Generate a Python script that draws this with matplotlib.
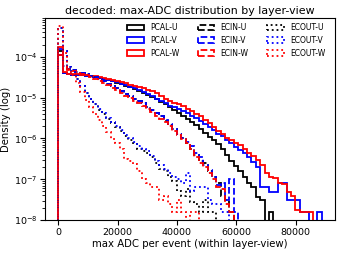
import numpy as np
import matplotlib
matplotlib.use("Agg")
import matplotlib.pyplot as plt

# shared bin edges (ADC)
adc_max = 88800
nbins = 60

# log10(density) per bin, None = empty bin
pcal_u = [-3.85, -4.40, -4.43, -4.44, -4.44, -4.45, -4.46, -4.47, -4.49, -4.51,
          -4.54, -4.57, -4.60, -4.63, -4.67, -4.71, -4.75, -4.79, -4.84, -4.88,
          -4.93, -4.98, -5.04, -5.10, -5.16, -5.23, -5.30, -5.37, -5.44, -5.52,
          -5.60, -5.68, -5.77, -5.87, -5.96, -6.05, -6.14, -6.25, -6.40, -6.55,
          -6.68, -6.80, -6.95, -7.09, -7.20, -7.44, -7.51, None, -7.80, None,
          None, None, None, None, None, None, None, None, None, None]
pcal_v = [-3.80, -4.40, -4.43, -4.44, -4.45, -4.45, -4.46, -4.47, -4.49, -4.51,
          -4.53, -4.56, -4.59, -4.62, -4.66, -4.69, -4.73, -4.76, -4.80, -4.85,
          -4.90, -4.96, -5.02, -5.08, -5.14, -5.20, -5.24, -5.27, -5.33, -5.38,
          -5.44, -5.50, -5.56, -5.64, -5.72, -5.80, -5.88, -5.95, -6.04, -6.12,
          -6.20, -6.28, -6.36, -6.45, -6.58, -6.70, -7.19, -7.19, -7.31, -7.31,
          -7.09, -7.09, -7.51, -7.51, -7.51, -7.80, -7.80, None, None, -7.80]
pcal_w = [-3.76, -4.38, -4.42, -4.43, -4.43, -4.44, -4.45, -4.46, -4.48, -4.49,
          -4.51, -4.53, -4.56, -4.59, -4.61, -4.65, -4.68, -4.71, -4.74, -4.77,
          -4.80, -4.84, -4.89, -4.95, -5.02, -5.08, -5.12, -5.16, -5.21, -5.27,
          -5.33, -5.40, -5.46, -5.55, -5.63, -5.72, -5.82, -5.90, -5.99, -6.05,
          -6.10, -6.17, -6.26, -6.36, -6.42, -6.52, -6.65, -6.85, -6.94, -6.97,
          -7.09, -7.12, -7.31, -7.40, -7.75, -7.80, -7.80, -7.80, None, None]
ecin_u = [-3.95, -4.22, -4.30, -4.33, -4.37, -4.40, -4.43, -4.46, -4.50, -4.55,
          -4.60, -4.66, -4.72, -4.77, -4.83, -4.90, -4.96, -5.02, -5.07, -5.14,
          -5.22, -5.30, -5.38, -5.46, -5.56, -5.66, -5.78, -5.88, -6.00, -6.10,
          -6.25, -6.40, -6.55, -6.60, -6.80, -6.95, -7.10, -7.40, -7.50, -7.80,
          None, None, None, None, None, None, None, None, None, None,
          None, None, None, None, None, None, None, None, None, None]
ecin_v = [-3.95, -4.22, -4.30, -4.33, -4.37, -4.40, -4.43, -4.46, -4.50, -4.55,
          -4.60, -4.66, -4.72, -4.77, -4.83, -4.90, -4.96, -5.02, -5.07, -5.14,
          -5.22, -5.30, -5.38, -5.45, -5.55, -5.65, -5.78, -5.90, -6.00, -6.08,
          -6.18, -6.35, -6.45, -6.65, -6.77, -6.95, -7.15, -7.10, -7.50, -7.00,
          -7.80, None, None, None, None, None, None, None, None, None,
          None, None, None, None, None, None, None, None, None, None]
ecin_w = [-3.95, -4.24, -4.32, -4.35, -4.39, -4.42, -4.45, -4.49, -4.53, -4.58,
          -4.64, -4.70, -4.76, -4.82, -4.88, -4.95, -5.01, -5.07, -5.13, -5.20,
          -5.28, -5.36, -5.44, -5.52, -5.60, -5.70, -5.82, -5.92, -6.02, -6.12,
          -6.25, -6.45, -6.60, -6.70, -6.85, -7.00, -7.19, -7.25, -7.60, -7.80,
          None, None, None, None, None, None, None, None, None, None,
          None, None, None, None, None, None, None, None, None, None]
ecout_u = [-3.30, -3.85, -4.25, -4.38, -4.55, -4.72, -4.88, -5.02, -5.15, -5.30,
           -5.40, -5.52, -5.62, -5.72, -5.82, -5.95, -6.05, -6.10, -6.25, -6.30,
           -6.35, -6.45, -6.60, -6.75, -6.80, -6.95, -7.05, -7.30, -7.40, -7.25,
           -7.55, -7.60, -7.80, -7.50, -7.80, -7.80, None, None, None, None,
           None, None, None, None, None, None, None, None, None, None,
           None, None, None, None, None, None, None, None, None, None]
ecout_v = [-3.28, -3.85, -4.25, -4.38, -4.55, -4.72, -4.88, -5.02, -5.15, -5.28,
           -5.38, -5.50, -5.60, -5.70, -5.80, -5.92, -6.00, -6.08, -6.18, -6.25,
           -6.32, -6.42, -6.55, -6.65, -6.75, -6.85, -6.95, -7.00, -7.10, -6.85,
           -7.30, -7.19, -7.19, -7.19, -7.50, -7.60, -7.60, -7.80, -7.80, None,
           None, None, None, None, None, None, None, None, None, None,
           None, None, None, None, None, None, None, None, None, None]
ecout_w = [-3.25, -3.90, -4.30, -4.45, -4.65, -4.85, -5.05, -5.22, -5.40, -5.55,
           -5.70, -5.85, -6.02, -6.10, -6.25, -6.50, -6.55, -6.62, -6.80, -7.00,
           -7.10, -7.20, -7.20, -7.50, -7.40, -7.60, -7.80, -7.50, -7.80, None,
           -7.80, -7.80, None, None, None, None, None, None, None, None,
           None, None, None, None, None, None, None, None, None, None,
           None, None, None, None, None, None, None, None, None, None]

series = [
    ("PCAL-U", pcal_u, "black", "-"),
    ("PCAL-V", pcal_v, "blue", "-"),
    ("PCAL-W", pcal_w, "red", "-"),
    ("ECIN-U", ecin_u, "black", "--"),
    ("ECIN-V", ecin_v, "blue", "--"),
    ("ECIN-W", ecin_w, "red", "--"),
    ("ECOUT-U", ecout_u, "black", ":"),
    ("ECOUT-V", ecout_v, "blue", ":"),
    ("ECOUT-W", ecout_w, "red", ":"),
]

edges = np.linspace(0, adc_max, nbins + 1)
centers = 0.5 * (edges[:-1] + edges[1:])

fig = plt.figure(figsize=(3.41, 2.54), dpi=100)
ax = fig.add_axes([0.132, 0.134, 0.850, 0.795])

for name, logd, col, ls in series:
    dens = np.nan_to_num(10 ** np.array(logd, dtype=float), nan=0.0)
    ax.hist(centers, bins=edges, weights=dens, histtype="step",
            color=col, linestyle=ls, linewidth=1.3, label=name)

ax.set_yscale("log")
ax.set_ylim(1e-8, 9e-4)
ax.set_title("decoded: max-ADC distribution by layer-view", fontsize=7.9, pad=3)
ax.set_xlabel("max ADC per event (within layer-view)", fontsize=7.3, labelpad=2)
ax.set_ylabel("Density (log)", fontsize=7.3, labelpad=2)
ax.tick_params(labelsize=6.8, pad=2)
ax.legend(ncol=3, fontsize=5.5, frameon=False, loc="upper right",
          bbox_to_anchor=(0.99, 1.01),
          handlelength=2.2, columnspacing=2.4)

fig.savefig("out.png", dpi=100)
